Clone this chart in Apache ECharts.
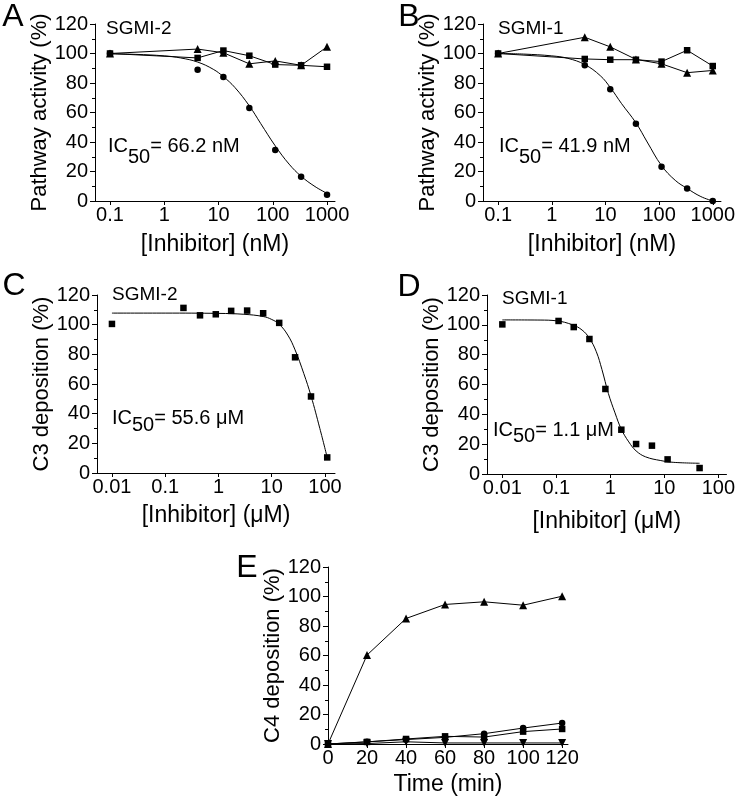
<!DOCTYPE html>
<html><head><meta charset="utf-8">
<script src="https://cdn.jsdelivr.net/npm/echarts@6/dist/echarts.min.js"></script>
<style>html,body{margin:0;padding:0;background:#fff}#c{width:738px;height:802px}</style>
</head><body><div id="c"></div>
<script>
// ---------- data ----------
const concAB = [0.1, 4.12, 12.3, 37, 111, 333, 1000];
const aCircle = [100, 89, 84, 63, 34.5, 16.5, 4.2];
const aTriangle = [100, 103, 100.5, 93, 95, 92, 104.5];
const aSquare = [100, 97, 102, 98.5, 92.5, 92, 91];
const curveAx = [0.1, 0.3, 1, 2, 4.12, 8, 12.3, 20, 37, 60, 111, 200, 333, 600, 1000];
const curveAy = [99.8, 99.4, 98.4, 97, 94.2, 89.3, 84.3, 77, 64.5, 52.5, 37.4, 25, 16.8, 9.8, 5.2];

const bCircle = [100, 92, 75.7, 52.4, 23.3, 8.4, 0];
const bTriangle = [100, 111, 104.5, 96, 93, 87, 88.5];
const bSquare = [100, 96.3, 95.8, 95.8, 94.5, 102.2, 91.5];
const curveBx = [0.1, 0.3, 1, 2, 4.12, 8, 12.3, 20, 37, 60, 111, 200, 333, 600, 1000];
const curveBy = [100, 99.6, 98.4, 96.7, 92.5, 85, 77, 66, 53, 40, 24, 14, 8.5, 3, 0];

const concC = [0.01, 0.22, 0.45, 0.89, 1.73, 3.45, 6.9, 13.8, 27.4, 54.6, 110];
const cSquare = [100.5, 111.3, 106.3, 107, 109.3, 109.5, 107.7, 101.2, 78, 51.6, 10.5];
const curveCx = [0.01, 0.1, 1, 3, 6.9, 10, 13.8, 20, 27.4, 40, 54.6, 80, 110];
const curveCy = [107.8, 107.8, 107.6, 107, 105.5, 103.5, 100.3, 93, 83, 67, 52, 30, 10.5];

const concD = [0.01, 0.11, 0.21, 0.41, 0.81, 1.6, 3.0, 5.9, 11.5, 45];
const dSquare = [100.3, 102.6, 98.5, 90.5, 57, 29.7, 20.1, 19, 9.8, 4];
const curveDx = [0.01, 0.05, 0.1, 0.2, 0.3, 0.41, 0.55, 0.7, 0.92, 1.22, 1.6, 2.2, 3, 4.5, 8.6, 15, 45];
const curveDy = [103.3, 103.2, 102.7, 100, 96.5, 91, 82, 70, 54, 41, 30, 21.5, 15.5, 11.5, 9, 7.8, 7.2];

const timeE = [0, 20, 40, 60, 80, 100, 120];
const eTriangle = [0, 60.3, 85.1, 94.6, 96.4, 94.1, 100.2];
const eCircle = [0, 1.5, 3, 4.5, 7, 10.8, 14.2];
const eSquare = [0, 1.4, 3.4, 5.2, 4.7, 8.4, 10.2];
const eInvTri = [0, 0.3, 1.5, 0.7, 0.7, 0.7, 0.7];

const ticksNM = [0.1, 1, 10, 100, 1000];
const ticksUM = [0.01, 0.1, 1, 10, 100];
const ticksTime = [0, 20, 40, 60, 80, 100, 120];

// ---------- chart ----------
const FONT = '"Liberation Sans", Arial, Helvetica, sans-serif';
const chart = echarts.init(document.getElementById('c'), null, {renderer: 'canvas'});

function yAx(g, name) {
  return {
    type: 'value', gridIndex: g, min: 0, max: 120, interval: 20,
    name: name, nameLocation: 'middle', nameGap: 44,
    nameTextStyle: {fontSize: 22, color: '#000', fontFamily: FONT},
    axisLine: {show: true, lineStyle: {color: '#000', width: 1}},
    axisTick: {show: true, length: 5, lineStyle: {color: '#000', width: 1}},
    minorTick: {show: true, splitNumber: 2, length: 3, lineStyle: {color: '#000', width: 1}},
    splitLine: {show: false},
    axisLabel: {fontSize: 20, color: '#000', fontFamily: FONT, margin: 7}
  };
}
function xLog(g, name, min, max, ticks, gap) {
  return {
    type: 'log', logBase: 10, gridIndex: g, min: min, max: max,
    name: name, nameLocation: 'middle', nameGap: gap,
    nameTextStyle: {fontSize: 23, color: '#000', fontFamily: FONT},
    axisLine: {show: true, onZero: false, lineStyle: {color: '#000', width: 1}},
    axisTick: {show: true, length: 4, customValues: ticks, lineStyle: {color: '#000', width: 1}},
    splitLine: {show: false},
    axisLabel: {fontSize: 20, color: '#000', fontFamily: FONT, margin: 4, customValues: ticks,
      formatter: v => String(v)}
  };
}
function xLin(g, name, min, max, ticks, gap) {
  return {
    type: 'value', gridIndex: g, min: min, max: max,
    name: name, nameLocation: 'middle', nameGap: gap,
    nameTextStyle: {fontSize: 23, color: '#000', fontFamily: FONT},
    axisLine: {show: true, onZero: false, lineStyle: {color: '#000', width: 1}},
    axisTick: {show: true, length: 4, customValues: ticks, lineStyle: {color: '#000', width: 1}},
    splitLine: {show: false},
    axisLabel: {fontSize: 20, color: '#000', fontFamily: FONT, margin: 4, customValues: ticks}
  };
}
function pairs(xs, ys) { return xs.map((x, i) => [x, ys[i]]); }
function markerLine(g, xs, ys, symbol, size, rot, showLine) {
  return {
    type: 'line', xAxisIndex: g, yAxisIndex: g, data: pairs(xs, ys),
    symbol: symbol, symbolSize: size, symbolRotate: rot || 0, showSymbol: true,
    itemStyle: {color: '#000'},
    lineStyle: {color: '#000', width: showLine ? 1 : 0, opacity: showLine ? 1 : 0},
    silent: true, animation: false, z: 3
  };
}
function curve(g, xs, ys) {
  return {
    type: 'line', xAxisIndex: g, yAxisIndex: g, data: pairs(xs, ys),
    symbol: 'none', smooth: 0.4, lineStyle: {color: '#000', width: 1},
    silent: true, animation: false, z: 2
  };
}

const series = [
  curve(0, curveAx, curveAy),
  markerLine(0, concAB, aTriangle, 'triangle', 8, 0, true),
  markerLine(0, concAB, aSquare, 'rect', 6.5, 0, true),
  markerLine(0, concAB, aCircle, 'circle', 6.5, 0, false),

  curve(1, curveBx, curveBy),
  markerLine(1, concAB, bTriangle, 'triangle', 8, 0, true),
  markerLine(1, concAB, bSquare, 'rect', 6.5, 0, true),
  markerLine(1, concAB, bCircle, 'circle', 6.5, 0, false),

  curve(2, curveCx, curveCy),
  markerLine(2, concC, cSquare, 'rect', 6.5, 0, false),

  curve(3, curveDx, curveDy),
  markerLine(3, concD, dSquare, 'rect', 6.5, 0, false),

  markerLine(4, timeE, eTriangle, 'triangle', 8, 0, true),
  markerLine(4, timeE, eCircle, 'circle', 6.5, 0, true),
  markerLine(4, timeE, eSquare, 'rect', 6.5, 0, true),
  markerLine(4, timeE, eInvTri, 'triangle', 8, 180, true)
];

// text helpers
const measCtx = document.createElement('canvas').getContext('2d');
function tw(t, size) { measCtx.font = size + 'px ' + FONT; return measCtx.measureText(t).width; }
function txt(t, x, y, size, align) {
  return {type: 'text', x: x, y: y, silent: true,
    style: {text: t, fontSize: size, fontFamily: FONT, fill: '#000', align: align || 'left', verticalAlign: 'middle'}};
}
function icLabel(x, y, rest, off) {
  const s = 20;
  const w1 = tw('IC', s), w2 = tw('50', s);
  return [txt('IC', x, y, s), txt('50', x + w1, y + off, s), txt(rest, x + w1 + w2, y, s)];
}
const graphic = [
  txt('A', 13, 17, 32, 'center'),
  txt('B', 409, 17, 32, 'center'),
  txt('C', 14, 286, 32, 'center'),
  txt('D', 409, 287, 32, 'center'),
  txt('E', 247, 568, 32, 'center'),
  txt('SGMI-2', 106, 29, 19),
  txt('SGMI-1', 498, 29, 19),
  txt('SGMI-2', 112, 295, 19),
  txt('SGMI-1', 502, 299, 19)
].concat(
  icLabel(108, 146, '= 66.2 nM', 11),
  icLabel(499, 146, '= 41.9 nM', 11),
  icLabel(112, 418, '= 55.6 μM', 7),
  icLabel(493, 430, '= 1.1 μM', 6)
);

chart.setOption({
  backgroundColor: '#fff',
  animation: false,
  grid: [
    {left: 95, top: 24, width: 240, height: 177},
    {left: 483, top: 24, width: 241, height: 177},
    {left: 97, top: 295, width: 238, height: 178},
    {left: 487, top: 295, width: 243, height: 179},
    {left: 328, top: 567, width: 240, height: 177}
  ],
  xAxis: [
    xLog(0, '[Inhibitor] (nM)', 0.0529, 1403, ticksNM, 32),
    xLog(1, '[Inhibitor] (nM)', 0.0523, 1422, ticksNM, 32),
    xLog(2, '[Inhibitor] (μM)', 0.00524, 154, ticksUM, 31),
    xLog(3, '[Inhibitor] (μM)', 0.0052, 141.7, ticksUM, 36),
    xLin(4, 'Time (min)', 0, 123, ticksTime, 29)
  ],
  yAxis: [
    yAx(0, 'Pathway activity (%)'),
    yAx(1, 'Pathway activity (%)'),
    yAx(2, 'C3 deposition (%)'),
    yAx(3, 'C3 deposition (%)'),
    yAx(4, 'C4 deposition (%)')
  ],
  series: series,
  graphic: graphic
});
</script>
</body></html>
